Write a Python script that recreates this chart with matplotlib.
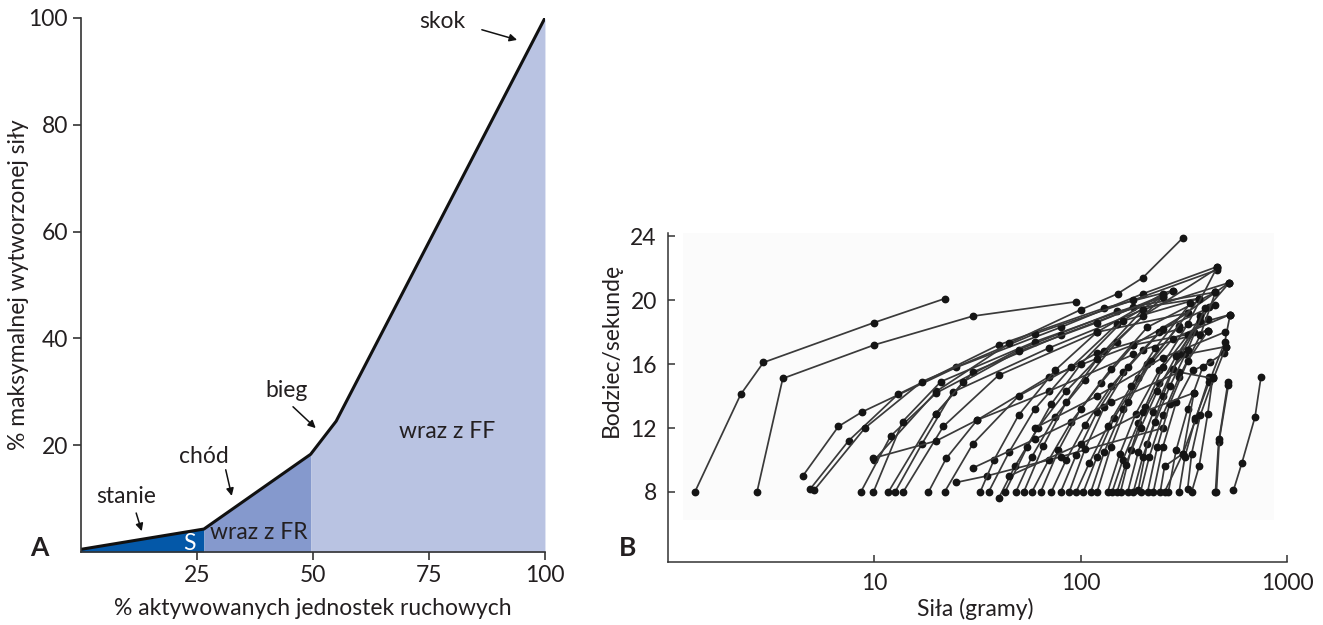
import numpy as np
import matplotlib.pyplot as plt
from matplotlib.patches import Rectangle

plt.rcParams['font.family'] = ['Lato', 'DejaVu Sans']

# panel A - rekrutacja jednostek ruchowych
aktywowane = [0, 26.5, 49.5, 55, 100]
sila = [0.5, 4.3, 18.3, 24.5, 100]
kolor_s = '#0458a8'
kolor_fr = '#8599cd'
kolor_ff = '#b9c3e2'

# panel B - krzywe sila / czestotliwosc (sila w gramach, bodziec/s)
jednostki = [
    [(1.35, 8), (2.25, 14.1), (2.9, 16.1), (10, 18.6), (22, 20.1)],
    [(2.7, 8), (3.6, 15.1), (10, 17.2), (30, 19.0), (95, 19.9)],
    [(4.5, 9.0), (6.7, 12.1), (8.7, 13.0), (25, 15.8), (80, 18.3), (200, 20.4), (460, 22.1)],
    [(4.9, 8.2), (7.5, 11.2), (13, 14.1), (40, 17.2), (130, 19.5), (280, 20.6)],
    [(5.1, 8.1), (9, 12.0), (17, 14.9), (60, 17.9), (180, 20.0), (460, 21.9)],
    [(10, 10.0), (20, 14.3), (45, 17.3), (100, 19.4), (151, 20.4), (200, 21.4), (313, 23.9)],
    [(8.6, 8), (12, 11.5), (20, 14.2), (50, 16.9), (150, 19.3), (375, 20.1)],
    [(9.9, 8), (13.7, 12.4), (21, 14.9), (60, 17.4), (180, 19.6), (450, 20.5)],
    [(11.7, 8), (19.8, 12.9), (30, 15.5), (80, 17.8), (250, 20.2)],
    [(12.6, 8), (17, 11.0), (24, 14.25), (70, 17.0), (200, 19.4), (526, 21.1)],
    [(13.8, 8), (21.6, 12.1), (40, 15.3), (120, 18.0), (330, 19.2)],
    [(18.3, 8), (22.3, 10.1), (31.5, 12.5), (70, 15.2), (180, 17.2), (415, 18.1)],
    [(21.9, 8), (30, 11.0), (50, 14.0), (120, 16.7), (300, 18.2), (530, 19.1)],
    [(25, 8.6), (35, 9.0), (80, 10.2), (250, 12.0)],
    [(9.8, 10.1), (20, 11.2), (31.5, 12.5), (70, 14.3), (180, 16.6)],
    [(32.6, 8), (38, 10.0), (50, 12.8), (75, 15.6), (120, 18.0), (250, 20.4)],
    [(35.8, 8), (45, 10.5), (60, 13.2), (90, 15.8), (150, 18.5), (280, 20.6)],
    [(40, 7.6), (48, 9.6), (62, 12.0), (85, 14.3), (130, 16.8), (200, 19.4)],
    [(43, 8), (55, 10.8), (72, 13.5), (100, 16.0), (160, 18.7), (375, 20.1)],
    [(48.5, 8), (58, 10.2), (75, 12.7), (105, 15.0), (150, 17.4), (250, 20.2)],
    [(53, 8), (66, 10.9), (85, 13.6), (120, 16.3), (200, 19.0), (460, 22.0)],
    [(58, 8), (70, 10.0), (90, 12.4), (125, 14.8), (180, 17.2), (330, 19.2)],
    [(64, 8), (78, 10.6), (100, 13.2), (140, 15.7), (210, 18.3), (450, 20.5)],
    [(72, 8), (85, 10.0), (105, 12.2), (140, 14.6), (200, 16.9), (415, 18.1)],
    [(80, 8), (95, 10.3), (120, 13.0), (160, 15.5), (240, 18.0), (526, 21.1)],
    [(88, 8), (105, 10.7), (130, 13.3), (170, 15.8), (250, 18.2), (450, 19.7)],
    [(103, 8), (120, 10.2), (145, 12.6), (190, 15.1), (280, 17.6), (530, 19.1)],
    [(112, 8), (130, 10.5), (160, 13.2), (210, 16.0), (300, 18.4)],
    [(120, 8), (140, 10.8), (170, 13.6), (220, 16.2), (375, 20.1)],
    [(135, 8), (155, 10.4), (185, 12.9), (240, 15.6), (330, 18.5), (460, 22.1)],
    [(142, 8), (160, 10.0), (190, 12.3), (240, 14.8), (320, 16.6), (507, 17.1)],
    [(156, 8), (175, 10.6), (205, 13.3), (250, 15.8), (330, 17.8), (415, 18.8)],
    [(169, 8), (190, 10.5), (225, 13.0), (280, 15.7), (354, 18.0), (420, 19.6)],
    [(190, 8.1), (210, 11.0), (250, 14.0), (300, 16.6), (380, 19.0), (526, 21.1)],
    [(195, 8), (215, 10.2), (250, 12.8), (300, 15.2), (380, 17.8), (450, 20.5)],
    [(211, 8), (235, 10.8), (270, 13.5), (330, 16.2), (415, 18.1)],
    [(225, 8), (250, 10.8), (290, 13.6), (350, 15.6), (425, 16.1)],
    [(243, 8), (255, 9.6), (313, 10.4), (360, 12.5), (420, 15.2)],
    [(266, 8), (290, 10.6), (330, 13.2), (390, 15.8), (495, 16.7)],
    [(300, 8), (320, 10.2), (360, 12.6), (420, 14.9), (500, 17.4), (530, 19.1)],
    [(330, 8.2), (345, 10.4), (380, 12.8), (440, 15.1), (507, 17.1)],
    [(345, 8), (375, 9.6), (413, 12.9), (437, 15.2)],
    [(450, 8), (466, 11.1), (518, 14.9)],
    [(455, 8), (470, 11.3), (520, 14.7)],
    [(550, 8.1), (604, 9.8), (700, 12.7), (748, 15.2)],
    [(255, 8), (313, 10.4), (354, 14.2)],
    [(45, 9.0), (100, 11.0), (200, 13.0), (354, 14.2)],
    [(30, 9.5), (60, 11.3), (140, 13.6), (300, 15.5), (440, 15.1)],
    [(60, 12.0), (120, 14.0), (250, 16.4), (500, 18.0)],
    [(20, 12.9), (27, 14.9), (50, 16.8), (120, 18.6), (250, 20.3)],
    [(95, 8), (110, 9.8), (135, 12.1), (175, 14.6), (230, 17.0), (340, 19.8)],
    [(150, 8), (165, 9.7), (195, 12.0), (235, 14.3), (290, 16.5), (380, 18.7)],
    [(180, 8), (200, 10.2), (230, 12.4), (270, 14.6), (330, 16.9), (400, 19.5)],
]
bodziec_ticks = [8, 12, 16, 20, 24]
sila_ticks = [10, 100, 1000]

fig = plt.figure(figsize=(13.23, 6.25), dpi=100)
fs = 16.5
ciemny = '#231f20'

# ---------- A ----------
ax = fig.add_axes([0.0612, 0.1168, 0.3507, 0.8544])
x = np.array(aktywowane)
y = np.array(sila)
ax.fill_between(x[:2], 0, y[:2], color=kolor_s, lw=0)
ax.fill_between(x[1:3], 0, y[1:3], color=kolor_fr, lw=0)
ax.fill_between(x[2:], 0, y[2:], color=kolor_ff, lw=0)
ax.plot(x, y, color='#111111', lw=2.2, solid_joinstyle='miter')
ax.set_xlim(0, 100)
ax.set_ylim(0, 100)
ax.set_xticks([25, 50, 75, 100])
ax.set_yticks([20, 40, 60, 80, 100])
ax.tick_params(direction='out', length=6, width=1.2, labelsize=fs, color='#333333', labelcolor=ciemny)
for s in ['top', 'right']:
    ax.spines[s].set_visible(False)
for s in ['left', 'bottom']:
    ax.spines[s].set_linewidth(1.2)
    ax.spines[s].set_color('#333333')
ax.set_xlabel('% aktywowanych jednostek ruchowych', fontsize=fs, color=ciemny)
ax.xaxis.set_label_coords(0.5, -0.086)
ax.set_ylabel('% maksymalnej wytworzonej siły', fontsize=fs, color=ciemny)
ax.yaxis.set_label_coords(-0.113, 0.5)

ax.text(23.3, 1.6, 'S', color='white', fontsize=fs, ha='center', va='center')
ax.text(38.4, 3.6, 'wraz z FR', color=ciemny, fontsize=fs, ha='center', va='center')
ax.text(78.9, 22.5, 'wraz z FF', color=ciemny, fontsize=fs, ha='center', va='center')

# etykiety ruchow z strzalkami
opisy = ['stanie', 'chód', 'bieg', 'skok']
opisy_xy = [(9.7, 10.3), (26.5, 17.8), (44.4, 30.3), (77.8, 99.3)]
strzalki_od = [(11.9, 7.3), (31.2, 15.4), (45.7, 27.2), (86.4, 97.8)]
strzalki_do = [(13.1, 3.9), (32.5, 10.5), (50.6, 23.2), (94.0, 95.9)]
for t, p, a, b in zip(opisy, opisy_xy, strzalki_od, strzalki_do):
    ax.text(p[0], p[1], t, fontsize=fs, ha='center', va='center', color=ciemny)
    ax.annotate('', xy=b, xytext=a,
                arrowprops=dict(arrowstyle='-|>', color='#111111', lw=1.1,
                                mutation_scale=11, shrinkA=0, shrinkB=0))
fig.text(0.030, 0.124, 'A', fontsize=19, fontweight='bold', ha='center', va='center', color=ciemny)

# ---------- B ----------
bx = fig.add_axes([0.5049, 0.1008, 0.4679, 0.5264])
bx.set_xscale('log')
bx.set_xlim(1, 1000)
bx.set_ylim(3.62, 24.2)
bx.add_patch(Rectangle((1.18, 6.25), 865 - 1.18, 24.55 - 6.25, facecolor='#fbfbfb',
                       edgecolor='none', zorder=0))
for u in jednostki:
    fx = [p[0] for p in u]
    fy = [p[1] for p in u]
    bx.plot(fx, fy, color='#3a3a3a', lw=1.25, marker='o', ms=4.6, mfc='#151515',
            mec='#151515', zorder=2)
bx.set_xticks(sila_ticks)
bx.set_xticklabels(['10', '100', '1000'])
bx.xaxis.set_minor_locator(plt.NullLocator())
bx.set_yticks(bodziec_ticks)
bx.tick_params(direction='in', length=5, width=1.1, labelsize=fs, color='#333333',
               labelcolor=ciemny, pad=8)
for s in ['top', 'right']:
    bx.spines[s].set_visible(False)
for s in ['left', 'bottom']:
    bx.spines[s].set_linewidth(1.1)
    bx.spines[s].set_color('#333333')
bx.set_xlabel('Siła (gramy)', fontsize=fs, color=ciemny)
bx.xaxis.set_label_coords(0.497, -0.109)
bx.set_ylabel('Bodziec/sekundę', fontsize=fs, color=ciemny)
bx.yaxis.set_label_coords(-0.074, 0.645)
fig.text(0.4747, 0.124, 'B', fontsize=19, fontweight='bold', ha='center', va='center', color=ciemny)

fig.savefig('out.png', dpi=100)
